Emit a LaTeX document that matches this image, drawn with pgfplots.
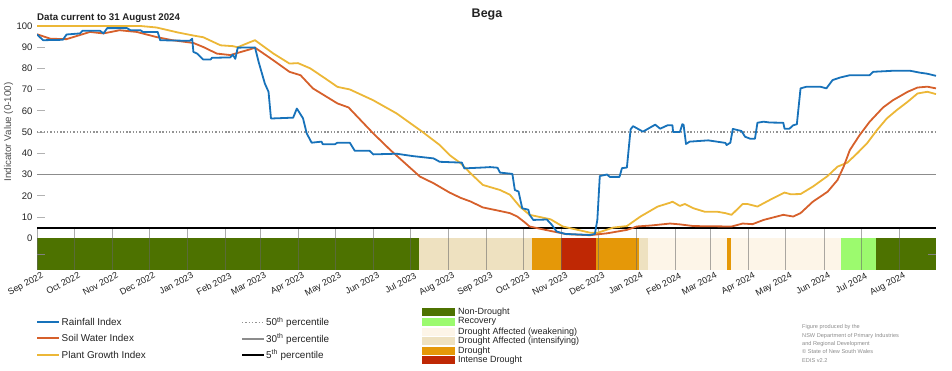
\documentclass[border=0pt]{standalone}
\usepackage{fontspec}
\setmainfont{Liberation Sans}
\usepackage{pgfplots}
\pgfplotsset{compat=1.18}
\definecolor{rainc}{RGB}{23,114,186}
\definecolor{soilc}{RGB}{214,96,43}
\definecolor{plantc}{RGB}{236,183,55}
\definecolor{nondr}{RGB}{77,114,0}
\definecolor{recov}{RGB}{156,250,110}
\definecolor{weak}{RGB}{253,245,232}
\definecolor{intens}{RGB}{238,225,192}
\definecolor{drought}{RGB}{229,152,8}
\definecolor{intense}{RGB}{191,40,4}
\definecolor{txt}{RGB}{34,34,34}
\begin{document}
\begin{tikzpicture}[x=1pt,y=1pt]
\useasboundingbox (0,0) rectangle (952,370);
\begin{axis}[at={(37pt,100pt)}, anchor=south west, scale only axis,
  width=899pt, height=244pt, xmin=0, xmax=730, ymin=-15, ymax=100,
  axis x line*=bottom, axis y line*=left, axis line style={draw=none},
  tick align=inside, major tick length=8pt,
  ytick={10,20,...,100}, extra y ticks={0}, extra y tick style={ytick style={draw=none}},
  ytick style={black!30, line width=0.8pt},
  xtick style={draw=none},
  /pgf/number format/assume math mode=true,
  yticklabel style={font=\fontsize{9.5}{11}\selectfont, text=txt, xshift=-1pt},
  xtick={0,30,61,91,122,153,181,212,242,273,303,334,365,395,426,456,487,518,547,578,608,639,669,700},
  xticklabels={Sep 2022,Oct 2022,Nov 2022,Dec 2022,Jan 2023,Feb 2023,Mar 2023,Apr 2023,May 2023,Jun 2023,Jul 2023,Aug 2023,Sep 2023,Oct 2023,Nov 2023,Dec 2023,Jan 2024,Feb 2024,Mar 2024,Apr 2024,May 2024,Jun 2024,Jul 2024,Aug 2024},
  xticklabel style={font=\fontsize{9}{10}\selectfont, text=txt, rotate=28, anchor=north east, xshift=6pt, yshift=0pt},
]
% drought category band
\addplot[fill=nondr, draw=none] coordinates {(0,-15)(0,0)(310,0)(310,-15)} -- cycle;
\addplot[fill=intens, draw=none] coordinates {(310,-15)(310,0)(402,0)(402,-15)} -- cycle;
\addplot[fill=drought, draw=none] coordinates {(402,-15)(402,0)(425.5,0)(425.5,-15)} -- cycle;
\addplot[fill=intense, draw=none] coordinates {(425.5,-15)(425.5,0)(454,0)(454,-15)} -- cycle;
\addplot[fill=drought, draw=none] coordinates {(454,-15)(454,0)(489,0)(489,-15)} -- cycle;
\addplot[fill=intens, draw=none] coordinates {(489,-15)(489,0)(496,0)(496,-15)} -- cycle;
\addplot[fill=weak, draw=none] coordinates {(496,-15)(496,0)(560,0)(560,-15)} -- cycle;
\addplot[fill=drought, draw=none] coordinates {(560,-15)(560,0)(563.5,0)(563.5,-15)} -- cycle;
\addplot[fill=weak, draw=none] coordinates {(563.5,-15)(563.5,0)(652.6,0)(652.6,-15)} -- cycle;
\addplot[fill=recov, draw=none] coordinates {(652.6,-15)(652.6,0)(681,0)(681,-15)} -- cycle;
\addplot[fill=nondr, draw=none] coordinates {(681,-15)(681,0)(730,0)(730,-15)} -- cycle;
\pgfplotsinvokeforeach{0,30,61,91,122,153,181,212,242,273,303,334,365,395,426,456,487,518,547,578,608,639,669,700}{
  \draw[black!60, line width=0.7pt, opacity=0.55] (axis cs:#1,-15) -- (axis cs:#1,4.6);
}
\draw[black!50, line width=0.7pt] (axis cs:0,-7.5) -- (axis cs:6.5,-7.5);
\draw[black!50, line width=0.7pt] (axis cs:723.5,-7.5) -- (axis cs:730,-7.5);
% percentile lines
\addplot[gray!85, line width=1.5pt, dash pattern=on 1.4pt off 1.9pt] coordinates {(0,50)(730,50)};
\addplot[gray!90, line width=1.8pt] coordinates {(0,30)(730,30)};
\addplot[black, line width=2pt] coordinates {(0,5)(730,5)};
% Plant Growth Index
\addplot[plantc, line width=1.8pt, line join=round] coordinates {
(0,100)(84,100)(97,99.3)(114,97)(127,95.5)(135,94.7)(149,90.9)(159,90.5)(163,90)(173,92.4)(177,93.3)(192,87)(205,82.3)(212,82.5)(222,80)(236,74.5)(244,71.3)(254,70.1)(273,65)(292,58.8)(313,50.1)(327,43.9)(335,39.2)(344,35.3)(352,30.6)(362,25.1)(376,22.7)(384,20.5)(392,14.9)(400,11)(417,8.9)(427,5.5)(449,2.6)(455,2.5)(468,5)(479,5.7)(490,10.2)(504,14.9)(514,16.7)(516,17.2)(522,15.2)(526,16.1)(533,14.1)(542,12.5)(552,12.5)(559,11.8)(564,11)(573,16.1)(577,16.1)(585,14.9)(595,18)(607,21.5)(612,20.7)(620,20.8)(630,24.3)(642,29.3)(650,33.7)(658,35.6)(666,40)(674,44.7)(682,50.9)(690,56.4)(698,60.3)(707,64.3)(715,68.2)(723,69)(730,67.9)};
% Soil Water Index
\addplot[soilc, line width=1.8pt, line join=round] coordinates {
(0,96.1)(11,94)(24,93.8)(43,97.2)(54,96.5)(67,98)(81,97.2)(97,94.8)(110,93.3)(127,92)(135,90.1)(146,87)(157,86.3)(161,87)(173,89)(177,89.8)(192,83.8)(205,78.4)(214,76.8)(224,70.6)(244,63.5)(253,61.6)(273,49.4)(287,41.5)(311,29)(322,25.9)(335,21.5)(344,19)(352,17.3)(362,14.5)(376,12.8)(384,11.8)(390,10.2)(396,7.5)(400,5.5)(417,3.4)(430,1.9)(449,1.4)(463,2.3)(479,3.9)(487,5.5)(499,6)(514,6.9)(522,6.5)(533,5.7)(564,5.5)(573,6.9)(581,6.6)(590,8.6)(606,11)(614,10.2)(620,11.8)(630,17.2)(642,21.9)(650,27.4)(655,33.7)(660,41.5)(668,48.6)(676,54.8)(687,61.6)(695,65)(707,69)(715,71)(723,71.4)(730,70.6)};
% Rainfall Index
\addplot[rainc, line width=1.8pt, line join=round] coordinates {
(0,96)(5,93.3)(21,93.5)(24,96)(35,96.5)(37,97.8)(51,97.8)(54,96.5)(57,99)(73,99)(76,98)(84,98)(86,97.2)(98,97.2)(100,93.3)(124,93)(126,94)(127,87.8)(130,87)(135,84.2)(141,84.2)(142,85)(157,85.2)(159,86.5)(161,84.5)(163,89.8)(177,89.9)(180,83)(185,72.9)(188,69)(190,56.4)(208,56.8)(211,61.1)(216,56.5)(219,49.4)(223,45)(231,45.5)(232,44.3)(242,44.3)(244,45)(254,45)(258,41.2)(270,41.2)(273,39.5)(292,39.8)(305,38.7)(322,37.6)(327,36)(345,35.6)(347,32.9)(362,33.3)(368,33.5)(374,33.2)(376,30.9)(386,30.3)(388,22.7)(391,22)(394,14.1)(399,13.4)(400,11)(403,8.6)(414,8.8)(418,6.3)(422,3.1)(429,2)(449,1.5)(453,2)(455,8.6)(457,29.3)(463,30)(465,28.9)(473,28.9)(475,33)(479,33.3)(482,51.3)(484,52.8)(492,50.2)(502,53.5)(506,51.6)(512,53.2)(516,53.2)(516.5,50)(522,50)(524,53.7)(525,53.5)(527,44.4)(530,45.5)(545,46.1)(559,44.9)(560,43.9)(563,45)(565,51.5)(572,50.5)(575,47.8)(579,46.9)(583,46.9)(585,54.4)(590,54.9)(595,54.5)(606,54.4)(607,51.6)(611,51.6)(614,53.2)(617,53.7)(620,70.6)(625,71.4)(636,71.4)(641,70.6)(646,74.5)(652,75.7)(660,76.8)(676,76.8)(679,78.4)(695,78.9)(709,78.9)(717,78)(723,77.5)(730,76.5)};
\end{axis}
% titles
\node[font=\bfseries\fontsize{12.5}{14}\selectfont, text=txt] at (487,355) {Bega};
\node[font=\bfseries\fontsize{9.7}{11}\selectfont, text=txt, anchor=base west, inner sep=0pt] at (37,349) {Data current to 31 August 2024};
\node[font=\fontsize{9.8}{11}\selectfont, text=txt!80, rotate=90] at (8.5,238) {Indicator Value (0-100)};
% legend 1
\begin{scope}[font=\fontsize{9.9}{11}\selectfont, text=txt]
\draw[rainc, line width=2pt] (37,48) -- (59,48);
\node[anchor=west, inner sep=0pt] at (61.5,48) {Rainfall Index};
\draw[soilc, line width=2pt] (37,32) -- (59,32);
\node[anchor=west, inner sep=0pt] at (61.5,32) {Soil Water Index};
\draw[plantc, line width=2pt] (37,15.5) -- (59,15.5);
\node[anchor=west, inner sep=0pt] at (61.5,15.5) {Plant Growth Index};
\draw[gray!85, line width=1.5pt, dash pattern=on 1.4pt off 1.9pt] (242,47.5) -- (264,47.5);
\node[anchor=west, inner sep=0pt] at (266,47.5) {50\textsuperscript{th} percentile};
\draw[gray!90, line width=1.8pt] (242,31) -- (264,31);
\node[anchor=west, inner sep=0pt] at (266,31) {30\textsuperscript{th} percentile};
\draw[black, line width=2.2pt] (242,15) -- (264,15);
\node[anchor=west, inner sep=0pt] at (266,15) {5\textsuperscript{th} percentile};
\end{scope}
% legend 3
\begin{scope}[font=\fontsize{9}{10}\selectfont, text=txt]
\fill[nondr] (422,54.5) rectangle (455,62);
\node[anchor=west, inner sep=0pt] at (458,58.3) {Non-Drought};
\fill[recov] (422,44.5) rectangle (455,52);
\node[anchor=west, inner sep=0pt] at (458,48.3) {Recovery};
\fill[weak] (422,34.5) rectangle (455,42);
\node[anchor=west, inner sep=0pt] at (458,38.3) {Drought Affected (weakening)};
\fill[intens] (422,25.2) rectangle (455,32.7);
\node[anchor=west, inner sep=0pt] at (458,29) {Drought Affected (intensifying)};
\fill[drought] (422,15.5) rectangle (455,23);
\node[anchor=west, inner sep=0pt] at (458,19.3) {Drought};
\fill[intense] (422,6.2) rectangle (455,13.7);
\node[anchor=west, inner sep=0pt] at (458,10) {Intense Drought};
\end{scope}
% credit
\begin{scope}[font=\fontsize{5.6}{6.5}\selectfont, text=black!45]
\node[anchor=base west, inner sep=0pt] at (802,41.5) {Figure produced by the};
\node[anchor=base west, inner sep=0pt] at (802,33) {NSW Department of Primary Industries};
\node[anchor=base west, inner sep=0pt] at (802,24.7) {and Regional Development};
\node[anchor=base west, inner sep=0pt] at (802,16.3) {\textcopyright\ State of New South Wales};
\node[anchor=base west, inner sep=0pt] at (802,7.5) {EDIS v2.2};
\end{scope}
\end{tikzpicture}
\end{document}
